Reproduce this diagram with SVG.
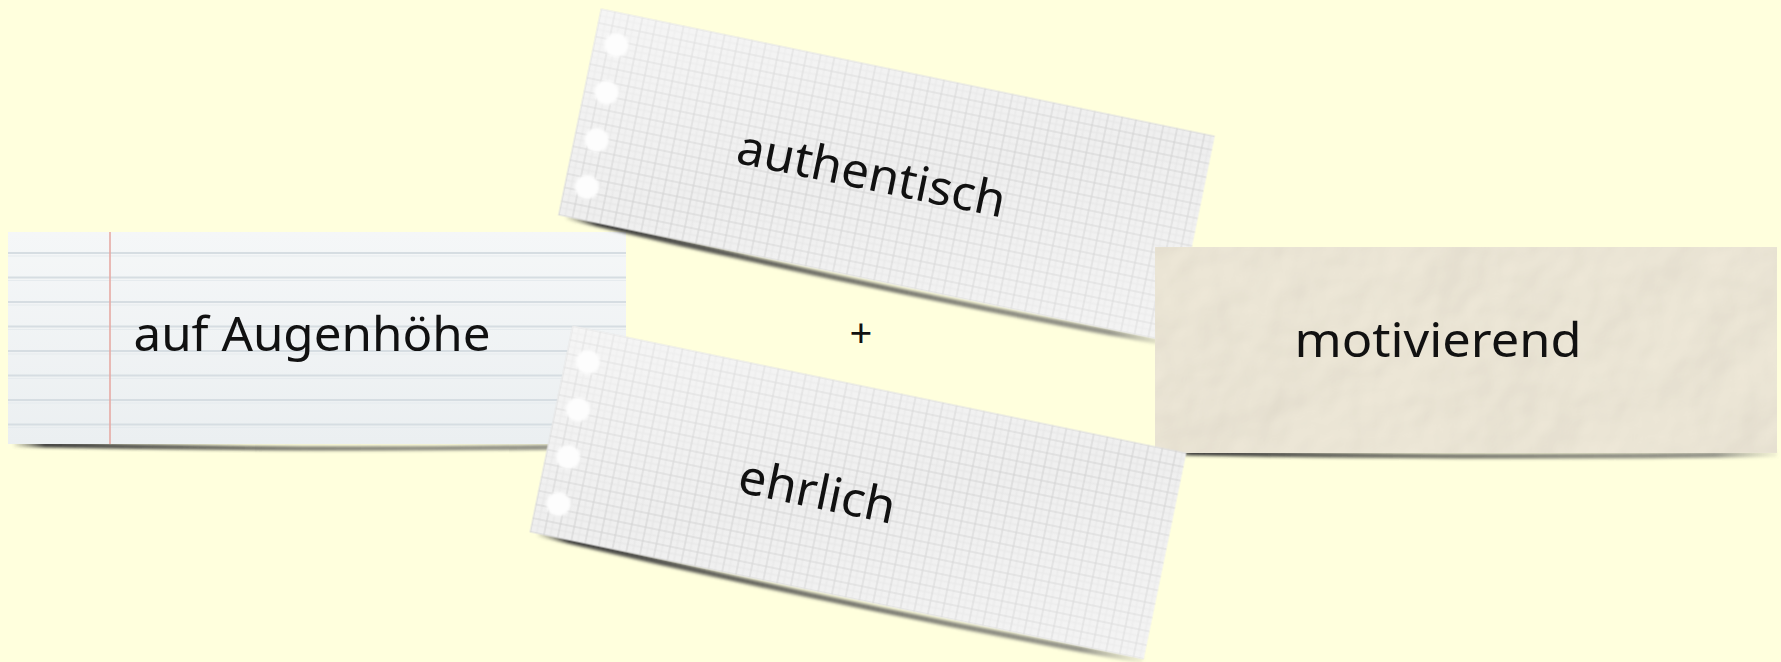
<svg xmlns="http://www.w3.org/2000/svg" width="1781" height="662" viewBox="0 0 1781 662">
<style>
.label{font-family:"Noto Sans","DejaVu Sans",sans-serif;font-size:48px;fill:#111;}
.plus{font-family:"Noto Sans","DejaVu Sans",sans-serif;font-size:40px;fill:#111;}
.hole{fill:#fdfdfd;}
.rule{stroke:#d6dde2;stroke-width:2;}
.rule2{stroke:#e6ebee;stroke-width:1;}
</style>
<defs>
  <filter id="blur2" x="-5%" y="-100%" width="110%" height="300%"><feGaussianBlur stdDeviation="1.6"/></filter>
  <filter id="holeBlur" x="-50%" y="-50%" width="200%" height="200%"><feGaussianBlur stdDeviation="1.3"/></filter>
  <filter id="soft" x="-2%" y="-2%" width="104%" height="104%"><feGaussianBlur stdDeviation="0.6"/></filter>
  <linearGradient id="shadowGrad" x1="0" x2="1" y1="0" y2="0">
    <stop offset="0" stop-color="#555" stop-opacity="0.1"/>
    <stop offset="0.05" stop-color="#333" stop-opacity="0.95"/>
    <stop offset="0.4" stop-color="#444" stop-opacity="0.8"/>
    <stop offset="0.9" stop-color="#666" stop-opacity="0.7"/>
    <stop offset="1" stop-color="#888" stop-opacity="0.1"/>
  </linearGradient>
  <linearGradient id="linedBase" x1="0" x2="0" y1="0" y2="1">
    <stop offset="0" stop-color="#f5f7f8"/>
    <stop offset="1" stop-color="#ebeff1"/>
  </linearGradient>
  <linearGradient id="sheen" x1="0" x2="1" y1="0" y2="1">
    <stop offset="0" stop-color="#fff" stop-opacity="0.4"/>
    <stop offset="0.5" stop-color="#fff" stop-opacity="0"/>
    <stop offset="1" stop-color="#fff" stop-opacity="0.3"/>
  </linearGradient>
  <pattern id="grid" patternUnits="userSpaceOnUse" x="-313.5" y="-105.5" width="14" height="14">
    <rect width="14" height="14" fill="#efefef"/>
    <path d="M7 0V14M0 7H14" stroke="#e3e3e3" stroke-width="1"/>
    <path d="M0.5 0V14M0 0.5H14" stroke="#d2d2d2" stroke-width="1.2"/>
  </pattern>
  <filter id="crumple" x="0" y="0" width="100%" height="100%">
    <feTurbulence type="fractalNoise" baseFrequency="0.008" numOctaves="4" seed="5" result="n"/>
    <feDiffuseLighting in="n" surfaceScale="6" lighting-color="#ffffff" result="l">
      <feDistantLight azimuth="225" elevation="58"/>
    </feDiffuseLighting>
    <feComposite in="l" in2="SourceGraphic" operator="arithmetic" k1="0.55" k2="0" k3="0.5" k4="0"/>
  </filter>
</defs>
<rect width="1781" height="662" fill="#ffffdd"/>

<g id="node-augenhoehe">
  <path d="M14 441 Q320 451 626 443 L626 449 Q320 453 14 447 Z" fill="url(#shadowGrad)" filter="url(#blur2)"/>
  <rect x="8" y="232" width="618" height="212" fill="url(#linedBase)"/>
  <g>
    <line class="rule" x1="8" y1="253" x2="626" y2="253"/>
    <line class="rule" x1="8" y1="277.5" x2="626" y2="277.5"/>
    <line class="rule" x1="8" y1="302" x2="626" y2="302"/>
    <line class="rule" x1="8" y1="326.5" x2="626" y2="326.5"/>
    <line class="rule" x1="8" y1="351" x2="626" y2="351"/>
    <line class="rule" x1="8" y1="375.5" x2="626" y2="375.5"/>
    <line class="rule" x1="8" y1="400" x2="626" y2="400"/>
    <line class="rule" x1="8" y1="424.5" x2="626" y2="424.5"/>
    <line class="rule2" x1="8" y1="256" x2="626" y2="256"/>
    <line class="rule2" x1="8" y1="280.5" x2="626" y2="280.5"/>
    <line class="rule2" x1="8" y1="305" x2="626" y2="305"/>
    <line class="rule2" x1="8" y1="329.5" x2="626" y2="329.5"/>
    <line class="rule2" x1="8" y1="354" x2="626" y2="354"/>
    <line class="rule2" x1="8" y1="378.5" x2="626" y2="378.5"/>
    <line class="rule2" x1="8" y1="403" x2="626" y2="403"/>
    <line class="rule2" x1="8" y1="427.5" x2="626" y2="427.5"/>
  </g>
  <line x1="110" y1="232" x2="110" y2="444" stroke="#e6aaa4" stroke-width="1.6"/>
  <text class="label" x="312" y="351" text-anchor="middle" textLength="357" lengthAdjust="spacingAndGlyphs">auf Augenhöhe</text>
</g>

<g id="node-authentisch" transform="translate(886.5 175.5) rotate(11.7)">
  <path d="M-305 101 Q0 113 313 104 L313 110 Q0 117 -305 108 Z" fill="url(#shadowGrad)" filter="url(#blur2)"/>
  <rect x="-313.5" y="-105.5" width="627" height="211" fill="url(#grid)" filter="url(#soft)"/>
  <rect x="-313.5" y="-105.5" width="627" height="211" fill="url(#sheen)"/>
  <g filter="url(#holeBlur)">
    <circle class="hole" cx="-291" cy="-73" r="12"/>
    <circle class="hole" cx="-291" cy="-24.5" r="12"/>
    <circle class="hole" cx="-291" cy="24" r="12"/>
    <circle class="hole" cx="-291" cy="72" r="12"/>
  </g>
  <text class="label" x="-15" y="18" text-anchor="middle" textLength="273" lengthAdjust="spacingAndGlyphs">authentisch</text>
</g>

<g id="node-motivierend">
  <path d="M1160 449 Q1460 458 1777 451 L1777 457 Q1460 461 1160 455 Z" fill="url(#shadowGrad)" filter="url(#blur2)"/>
  <rect x="1155" y="247" width="622" height="206" fill="#ede7d7" filter="url(#crumple)"/>
  <text class="label" x="1438" y="357" text-anchor="middle" textLength="287" lengthAdjust="spacingAndGlyphs">motivierend</text>
</g>

<g id="node-ehrlich" transform="translate(858 492.5) rotate(11.7)">
  <path d="M-305 101 Q0 113 313 104 L313 110 Q0 117 -305 108 Z" fill="url(#shadowGrad)" filter="url(#blur2)"/>
  <rect x="-313.5" y="-105.5" width="627" height="211" fill="url(#grid)" filter="url(#soft)"/>
  <rect x="-313.5" y="-105.5" width="627" height="211" fill="url(#sheen)"/>
  <g filter="url(#holeBlur)">
    <circle class="hole" cx="-291" cy="-73" r="12"/>
    <circle class="hole" cx="-291" cy="-24.5" r="12"/>
    <circle class="hole" cx="-291" cy="24" r="12"/>
    <circle class="hole" cx="-291" cy="72" r="12"/>
  </g>
  <text class="label" x="-40" y="24" text-anchor="middle" textLength="159" lengthAdjust="spacingAndGlyphs">ehrlich</text>
</g>

<g id="connectors">
  <text class="plus" x="861" y="347" text-anchor="middle">+</text>
</g>
</svg>
